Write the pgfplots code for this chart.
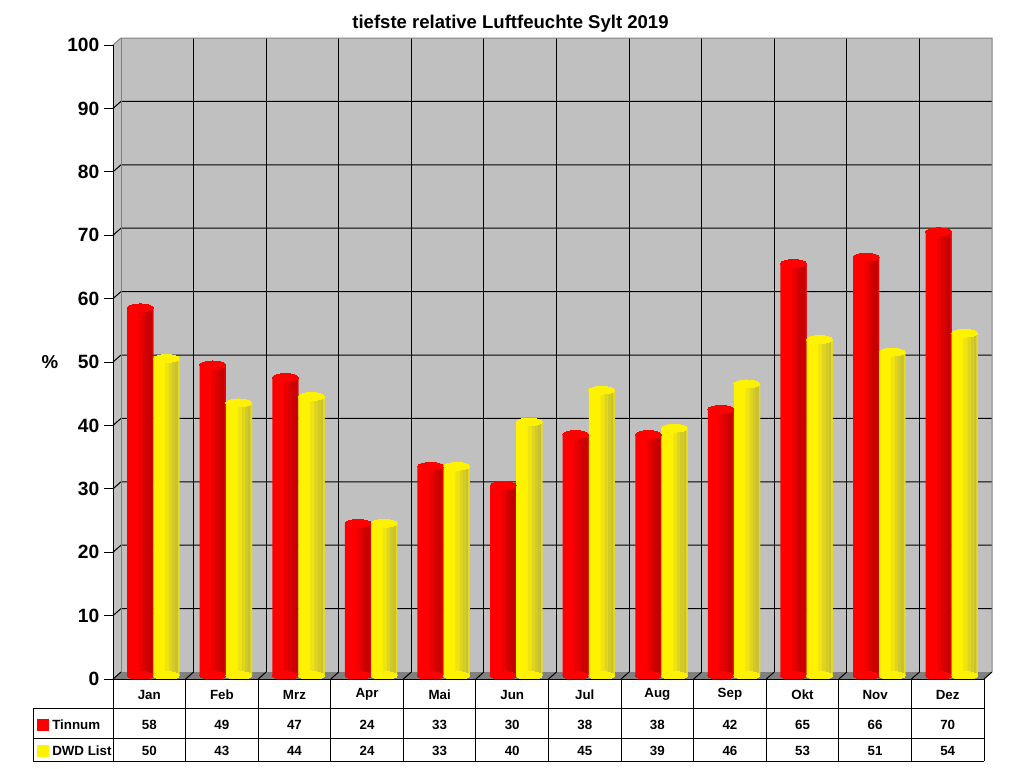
\documentclass[border=0pt]{standalone}
\usepackage{pgfplots}
\usepackage{pgfplotstable}
\pgfplotsset{compat=1.18}
\usepackage{fontspec}
\setmainfont{Liberation Sans}
\definecolor{wallgray}{HTML}{C0C0C0}
\definecolor{floorgray}{HTML}{808080}
\definecolor{edgegray}{HTML}{808080}

\pgfplotstableread{
m t d
0 58 50
1 49 43
2 47 44
3 24 24
4 33 33
5 30 40
6 38 45
7 38 39
8 42 46
9 65 53
10 66 51
11 70 54
}\data

% one vertical strip of a cylinder-like bar: shift, width, colour, column
\newcommand\strip[4]{\addplot[ybar, bar width=#2, bar shift=#1, draw=none, fill=#3, forget plot] table[x=m,y=#4]{\data};}
% elliptic cap: xshift, colour, y column
\newcommand\captop[3]{\addplot[only marks, mark=*, mark size=9.75pt, forget plot, draw=#2,
    mark options={xshift=#1, yscale=0.3, fill=#2, draw=#2, line width=0pt}] table[x=m,y=#3]{\data};}
\newcommand\capbot[2]{\addplot[only marks, mark=*, mark size=9.75pt, forget plot, draw=#2,
    mark options={xshift=#1, yscale=0.3, fill=#2, draw=#2, line width=0pt}] table[x=m,y expr=0]{\data};}

\begin{document}
\begin{tikzpicture}
\path[use as bounding box] (0,0) rectangle (768pt,-576pt);
% ---- 3D walls (pixel coordinates) ----
\begin{scope}[x=0.75pt,y=-0.75pt]
  \fill[wallgray] (121,38) rectangle (992,672);
  \fill[wallgray] (113,45) -- (121,38) -- (121,672) -- (113,679) -- cycle;
  \fill[floorgray] (113,679) -- (121,672) -- (992,672) -- (984,679) -- cycle;
  \foreach \k in {1,...,9}{
    \pgfmathsetmacro\yy{679-63.4*\k}
    \draw[black,line width=0.75pt] (113,\yy) -- (121,\yy-7) -- (992,\yy-7);
  }
  \foreach \j in {1,...,11}{
    \pgfmathsetmacro\xx{113+72.5833*\j}
    \draw[black,line width=0.75pt] (\xx+8,38) -- (\xx+8,672);
  }
  \foreach \j in {0,...,12}{
    \pgfmathsetmacro\xx{113+72.5833*\j}
    \draw[black,line width=0.75pt] (\xx,679) -- (\xx+8,672);
  }
  \draw[edgegray,line width=0.75pt] (113,45) -- (121,38) -- (992,38) -- (992,672);
  \draw[edgegray,line width=0.75pt] (121,38) -- (121,672);
\end{scope}

% ---- front axis: y ticks, labels, title ----
\begin{axis}[
  at={(84.75pt,-509.25pt)}, anchor=south west, scale only axis,
  width=653.25pt, height=475.5pt,
  xmin=-0.5, xmax=11.5, ymin=0, ymax=100,
  axis lines*=left,
  x axis line style={draw=none},
  y axis line style={black, line width=0.75pt},
  xtick=\empty,
  ytick={0,10,...,100},
  tick align=outside, major tick length=6.75pt,
  ytick style={black, line width=0.75pt},
  /pgf/number format/assume math mode=true,
  yticklabel style={font=\fontsize{14.4}{16}\selectfont\bfseries},
  title={tiefste relative Luftfeuchte Sylt 2019},
  title style={font=\fontsize{13.9}{15}\selectfont\bfseries, at={(rel axis cs:0.5,1)}, anchor=base, xshift=-28.5pt, yshift=6.75pt},
  ylabel={\%},
  ylabel style={font=\fontsize{14}{16}\selectfont\bfseries, rotate=-90, at={(rel axis cs:0,0.5)}, anchor=center, xshift=-47.25pt},
  clip=false,
]
\end{axis}

% ---- bars at mid depth ----
\begin{axis}[
  at={(87.75pt,-506.625pt)}, anchor=south west, scale only axis,
  width=653.25pt, height=475.5pt,
  xmin=-0.5, xmax=11.5, ymin=0, ymax=100,
  hide axis, clip=false,
]
% Tinnum (red)
\strip{-0.18}{0.36}{red}{t}
\captop{-9.75pt}{red}{t}
\capbot{-9.75pt}{red}
\strip{-0.171}{0.054}{red!93!black}{t}
\strip{-0.1224}{0.0432}{red!86!black}{t}
\strip{-0.0792}{0.0432}{red!80!black}{t}
\strip{-0.0378}{0.0396}{red!76!black}{t}
\strip{-0.009}{0.018}{red!88!black}{t}
% DWD List (yellow)
\strip{0.18}{0.36}{yellow}{d}
\captop{9.75pt}{yellow}{d}
\capbot{9.75pt}{yellow}
\strip{0.189}{0.054}{yellow!93!black}{d}
\strip{0.2376}{0.0432}{yellow!86!black}{d}
\strip{0.2808}{0.0432}{yellow!80!black}{d}
\strip{0.3222}{0.0396}{yellow!76!black}{d}
\strip{0.351}{0.018}{yellow!88!black}{d}
\end{axis}

% ---- data table ----
\begin{scope}[x=0.75pt,y=-0.75pt, every node/.style={font=\fontsize{10}{12}\selectfont\bfseries, inner sep=0pt}]
  \draw[black,line width=0.75pt] (113,679) -- (984,679);
  \draw[black,line width=0.75pt] (33,708) -- (984,708);
  \draw[black,line width=0.75pt] (33,738) -- (984,738);
  \draw[black,line width=0.75pt] (33,761) -- (984,761);
  \draw[black,line width=0.75pt] (33,708) -- (33,761);
  \foreach \j in {0,...,12}{
    \pgfmathsetmacro\xx{113+72.5833*\j}
    \draw[black,line width=0.75pt] (\xx,679) -- (\xx,761);
  }
  \foreach \n [count=\i from 0] in {Jan,Feb,Mrz,Apr,Mai,Jun,Jul,Aug,Sep,Okt,Nov,Dez}{
    \pgfmathsetmacro\xx{113+72.5833*\i+36.29}
    \node at (\xx,694.5) {\n};
    \pgfplotstablegetelem{\i}{t}\of\data
    \node at (\xx,724.5) {\pgfplotsretval};
    \pgfplotstablegetelem{\i}{d}\of\data
    \node at (\xx,750.5) {\pgfplotsretval};
  }
  \fill[red] (37,719) rectangle (49,731);
  \node[anchor=west] at (52,725) {Tinnum};
  \fill[yellow] (37,745) rectangle (49,757);
  \node[anchor=west] at (52,751) {DWD List};
\end{scope}
\end{tikzpicture}
\end{document}
